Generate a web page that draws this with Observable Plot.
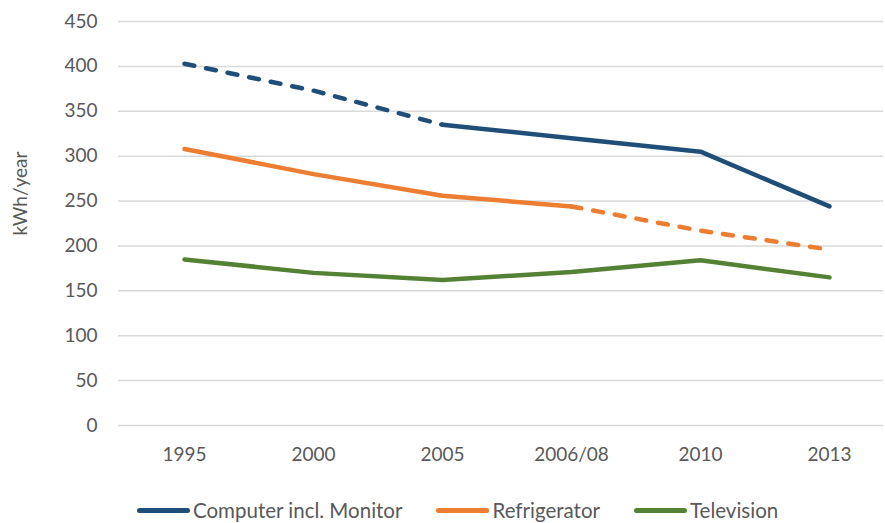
<!DOCTYPE html>
<html>
<head>
<meta charset="utf-8">
<script src="https://cdn.jsdelivr.net/npm/d3@7"></script>
<script src="https://cdn.jsdelivr.net/npm/@observablehq/plot@0.6"></script>
<style>
  html, body { margin: 0; padding: 0; background: #fff; overflow: hidden; }
  body { width: 885px; height: 523px; position: relative; font-family: Lato, "Open Sans", sans-serif; }
  #legend { position: absolute; left: 137px; top: 498px; display: flex; gap: 34px; align-items: center; font-size: 20.5px; color: #595959; }
  .item { display: flex; align-items: center; gap: 3px; }
  .sw { width: 53px; height: 5px; border-radius: 3px; }
</style>
</head>
<body>
<div id="chart"></div>
<div id="legend"></div>
<script>
const categories = ["1995", "2000", "2005", "2006/08", "2010", "2013"];
const seriesNames = ["Computer incl. Monitor", "Refrigerator", "Television"];
const computer = [403, 373, 335, 320, 305, 244];
const refrigerator = [308, 280, 256, 244, 217, 196];
const television = [185, 170, 162, 171, 184, 165];
const colors = ["#1F4E79", "#ED7D31", "#548235"];
const yTicks = [0, 50, 100, 150, 200, 250, 300, 350, 400, 450];
// index ranges (inclusive) of the solid and dashed parts of each series
const solidRanges = [[2, 5], [0, 3], [0, 5]];
const dashedRanges = [[0, 2], [3, 5], null];

const allValues = [computer, refrigerator, television];
const solidRows = [];
const dashedRows = [];
allValues.forEach((vals, s) => {
  const dr = dashedRanges[s];
  const sr = solidRanges[s];
  vals.forEach((v, i) => {
    const row = {series: seriesNames[s], cat: categories[i], value: v};
    if (dr && i >= dr[0] && i <= dr[1]) dashedRows.push(row);
    if (sr && i >= sr[0] && i <= sr[1]) solidRows.push(row);
  });
});

const chart = Plot.plot({
  width: 885,
  height: 480,
  marginLeft: 118,
  marginRight: 2,
  marginTop: 21,
  marginBottom: 55,
  style: {fontFamily: "Lato, 'Open Sans', sans-serif", fontSize: "19px", color: "#595959", background: "#fff"},
  x: {type: "point", domain: categories, range: [182, 830], padding: 0},
  y: {domain: [0, 450]},
  color: {domain: seriesNames, range: colors},
  marks: [
    Plot.ruleY(yTicks, {stroke: "#d9d9d9", strokeWidth: 1.5}),
    Plot.axisY({ticks: yTicks, tickSize: 0, tickPadding: 21, label: null, fill: "#595959"}),
    Plot.axisX({tickSize: 0, tickPadding: 22, label: null, fill: "#595959"}),
    Plot.text(["kWh/year"], {frameAnchor: "left", dx: -98, dy: 12, rotate: -90, fill: "#595959", fontSize: 19}),
    Plot.line(solidRows, {x: "cat", y: "value", z: "series", stroke: "series", strokeWidth: 4.5, strokeLinecap: "round", strokeLinejoin: "round"}),
    Plot.line(dashedRows, {x: "cat", y: "value", z: "series", stroke: "series", strokeWidth: 4.5, strokeLinecap: "round", strokeLinejoin: "round", strokeDasharray: "10 12"})
  ]
});
document.getElementById("chart").appendChild(chart);

const legend = document.getElementById("legend");
seriesNames.forEach((name, i) => {
  const item = document.createElement("div");
  item.className = "item";
  const sw = document.createElement("div");
  sw.className = "sw";
  sw.style.background = colors[i];
  const t = document.createElement("span");
  t.textContent = name;
  item.appendChild(sw);
  item.appendChild(t);
  legend.appendChild(item);
});
</script>
</body>
</html>
